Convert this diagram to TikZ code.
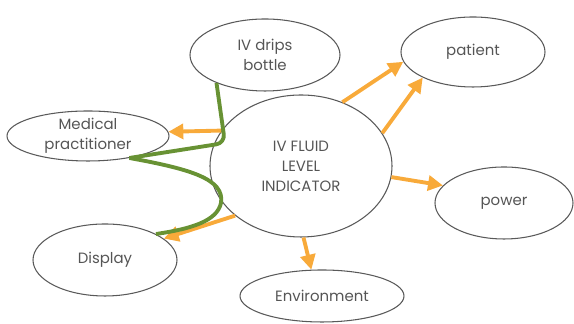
\documentclass[tikz,border=0pt]{standalone}
\usepackage{fontspec}
\setmainfont{Poppins}
\usetikzlibrary{arrows.meta,shapes.geometric}
\definecolor{arrOrange}{RGB}{248,170,58}
\definecolor{wireGreen}{RGB}{104,146,52}
\definecolor{textGray}{RGB}{85,85,85}

\begin{document}
\begin{tikzpicture}
\useasboundingbox (0,0) rectangle (11.48,6.48);
\begin{scope}[every node/.style={ellipse,draw=black!65,line width=0.6pt,inner sep=0pt,
              align=center,text=textGray,font=\fontsize{8.5}{11.4}\selectfont}]
    \node[minimum width=3.64cm,minimum height=2.84cm] (ind) at (6.02,3.16) {IV FLUID\\LEVEL\\INDICATOR};
    \node[minimum width=3.0cm,minimum height=1.44cm] (bot) at (5.30,5.38) {IV drips\\bottle};
    \node[minimum width=2.88cm,minimum height=1.40cm] (pat) at (9.46,5.44) {patient};
    \node[minimum width=3.24cm,minimum height=1.0cm] (med) at (1.76,3.76) {Medical\\practitioner};
    \node[minimum width=2.88cm,minimum height=1.44cm] (dis) at (2.10,1.28) {Display};
    \node[minimum width=3.28cm,minimum height=1.04cm] (env) at (6.44,0.56) {Environment};
    \node[minimum width=2.76cm,minimum height=1.44cm] (pow) at (10.08,2.42) {power};
\end{scope}
\begin{scope}[>={Triangle[length=8.5pt,width=8.5pt]},
              every edge/.style={draw=arrOrange,line width=2.2pt}]
    \path [->] (ind.156) edge (med.3);
    \path [->] (ind.57) edge (pat.188);
    \path [->] (ind.22) edge (pat.207);
    \path [->] (ind.-7) edge (pow.164);
    \path [->] (ind.-88) edge (env.112);
    \path [->] (ind.217) edge (dis.20);
\end{scope}
\begin{scope}[wire/.style={draw=wireGreen,line width=2.2pt}]
    \draw [wire,rounded corners=5pt] (bot.210) -- (4.5,3.62) -- (med.-28);
    \draw [wire] (med.-28) .. controls (3.8,3.1) and (4.5,2.9) .. (4.42,2.42)
                 .. controls (4.34,2.05) and (3.8,1.9) .. (dis.27);
\end{scope}
\end{tikzpicture}
\end{document}
